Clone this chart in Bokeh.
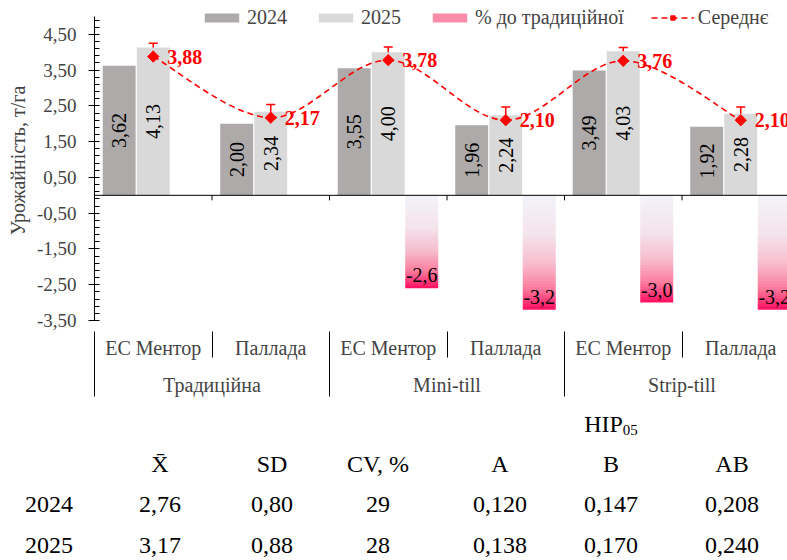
import numpy as np
from bokeh.plotting import figure
from bokeh.models import (Range1d, LinearAxis, FixedTicker, CustomJSTickFormatter,
                          ColumnDataSource, Legend, LegendItem, Span, Whisker, TeeHead, Div)
from bokeh.layouts import column
from bokeh.core.properties import value
from bokeh.embed import file_html
from bokeh.resources import INLINE

# ---------------- data ----------------
tillage = ["Традиційна", "Mini-till", "Strip-till"]
varieties = ["ЕС Ментор", "Паллада"]
yield_2024 = [3.62, 2.00, 3.55, 1.96, 3.49, 1.92]
yield_2025 = [4.13, 2.34, 4.00, 2.24, 4.03, 2.28]
pct_to_traditional = [None, None, -2.6, -3.2, -3.0, -3.2]
mean_yield = [3.88, 2.17, 3.78, 2.10, 3.76, 2.10]
mean_error = [0.37, 0.37, 0.37, 0.37, 0.37, 0.37]
y_major_ticks = [-3.5, -2.5, -1.5, -0.5, 0.5, 1.5, 2.5, 3.5, 4.5]
y_axis_min, y_axis_max = -3.5, 5.0
legend_labels = ["2024", "2025", "% до традиційної", "Середнє"]
y_title = "Урожайність, т/га"

table_group_header = ("НІР", "05")
table_columns = ["X\u0304", "SD", "CV, %", "A", "B", "AB"]
table_years = ["2024", "2025"]
table_2024 = ["2,76", "0,80", "29", "0,120", "0,147", "0,208"]
table_2025 = ["3,17", "0,88", "28", "0,138", "0,170", "0,240"]

# ---------------- styles ----------------
FONT = "Liberation Serif"
C2024 = "#AEAAAA"
C2025 = "#D9D9D9"
RED = "#FF0000"
CAT_PX = 117.5
FIG_W, FIG_H = 787, 400
PAGE_H = 560
FRAME_LEFT = 94
BOTTOM_PANEL = 80
AXIS_PX = 304.0          # pixel height of the y-axis span (-3.5 .. 5.0)


def fmt(v, d):
    return f"{v:.{d}f}".replace(".", ",")


n = len(yield_2024)
xc = np.arange(n) + 0.5
off24, off25, offp, bw = -0.29, 0.0, 0.285, 0.28

px_per_unit = AXIS_PX / (y_axis_max - y_axis_min)
y_top = y_axis_min + (FIG_H - BOTTOM_PANEL) / px_per_unit

p = figure(width=FIG_W, height=FIG_H,
           x_range=Range1d(0, (FIG_W - FRAME_LEFT) / CAT_PX), y_range=Range1d(y_axis_min, y_top),
           x_axis_type=None, y_axis_type=None, toolbar_location=None, output_backend="svg",
           min_border_left=FRAME_LEFT, min_border_right=0, min_border_top=0,
           min_border_bottom=BOTTOM_PANEL)
p.outline_line_color = None
p.background_fill_color = "white"

# ---- y axis ----
minor = [float(v) for v in np.round(np.arange(-3.5, 5.0, 0.2), 2)]
yax = LinearAxis(ticker=FixedTicker(ticks=y_major_ticks, minor_ticks=minor),
                 formatter=CustomJSTickFormatter(code="return tick.toFixed(2).replace('.', ',');"),
                 bounds=(y_axis_min, y_axis_max),
                 axis_label=y_title,
                 axis_label_text_font=FONT, axis_label_text_font_size="20px",
                 axis_label_text_font_style="normal", axis_label_standoff=5,
                 major_label_text_font=FONT, major_label_text_font_size="19px",
                 major_label_standoff=12,
                 major_tick_in=4, major_tick_out=6, minor_tick_in=5, minor_tick_out=0,
                 axis_line_color="black", major_tick_line_color="black",
                 minor_tick_line_color="black")
p.add_layout(yax, "left")

# ---- x axes (two levels) ----
sub_labels = varieties * len(tillage)
axA = LinearAxis(ticker=FixedTicker(ticks=[float(v) for v in xc], minor_ticks=list(range(n + 1))),
                 formatter=CustomJSTickFormatter(args=dict(labels=sub_labels),
                                                 code="return labels[Math.floor(tick)] || '';"),
                 axis_line_color=None, major_tick_line_color=None, major_tick_in=0, major_tick_out=0,
                 minor_tick_line_color="black", minor_tick_in=-37, minor_tick_out=11,
                 major_label_standoff=5, major_label_text_font=FONT,
                 major_label_text_font_size="20px")
grp_centers = [2 * i + 1 for i in range(len(tillage))]
axB = LinearAxis(ticker=FixedTicker(ticks=grp_centers, minor_ticks=[2 * i for i in range(len(tillage) + 1)]),
                 formatter=CustomJSTickFormatter(args=dict(labels=tillage),
                                                 code="return labels[Math.floor(tick / 2)] || '';"),
                 axis_line_color=None, major_tick_line_color=None, major_tick_in=0, major_tick_out=0,
                 minor_tick_line_color="black", minor_tick_in=-35, minor_tick_out=-27,
                 major_label_standoff=12, major_label_text_font=FONT,
                 major_label_text_font_size="20px")
p.add_layout(axA, "below")
p.add_layout(axB, "below")

# ---- bars ----
bsrc = ColumnDataSource(dict(
    x24=xc + off24, x25=xc + off25, y24=yield_2024, y25=yield_2025,
    m24=[v / 2 for v in yield_2024], m25=[v / 2 for v in yield_2025],
    l24=[fmt(v, 2) for v in yield_2024], l25=[fmt(v, 2) for v in yield_2025]))
r24 = p.vbar(x="x24", top="y24", bottom=0, width=bw, source=bsrc, fill_color=C2024, line_color=None)
r25 = p.vbar(x="x25", top="y25", bottom=0, width=bw, source=bsrc, fill_color=C2025, line_color=None)
for xcol, mcol, lcol in (("x24", "m24", "l24"), ("x25", "m25", "l25")):
    p.text(x=xcol, y=mcol, text=lcol, source=bsrc, angle=np.pi / 2, text_align="center",
           text_baseline="middle", text_font=value(FONT), text_font_size="20px", text_color="black")

# ---- gradient bars (% to traditional) ----
stops = [(0.0, (243, 243, 249)), (0.35, (244, 227, 235)), (0.6, (247, 188, 206)),
         (0.82, (251, 122, 156)), (1.0, (255, 12, 96))]


def grad(t):
    for (t0, c0), (t1, c1) in zip(stops[:-1], stops[1:]):
        if t <= t1:
            f = (t - t0) / (t1 - t0)
            c = [round(a + (b - a) * f) for a, b in zip(c0, c1)]
            return "#%02x%02x%02x" % tuple(c)
    return "#%02x%02x%02x" % stops[-1][1]


NS = 40
gl, gr, gt, gb, gc = [], [], [], [], []
px, py, pl = [], [], []
for x, v in zip(xc, pct_to_traditional):
    if v is None:
        continue
    for j in range(NS):
        gl.append(x + offp - bw / 2)
        gr.append(x + offp + bw / 2)
        gt.append(v * j / NS)
        gb.append(v * min(j + 1.4, NS) / NS)
        gc.append(grad((j + 0.5) / NS))
    px.append(x + offp)
    py.append(v)
    pl.append(fmt(v, 1))
gsrc = ColumnDataSource(dict(left=gl, right=gr, top=gt, bottom=gb, color=gc))
rp = p.quad(left="left", right="right", top="top", bottom="bottom", source=gsrc,
            fill_color="color", line_color=None)
p.text(x=px, y=py, text=pl, text_align="center", text_baseline="bottom", y_offset=-6,
       text_font=value(FONT), text_font_size="20px", text_color="black")

# ---- zero line with category tick marks ----
p.add_layout(Span(location=0, dimension="width", line_color="black", line_width=1))
bounds = list(range(1, n + 1))
p.segment(x0=bounds, y0=[0] * len(bounds), x1=bounds, y1=[-0.14] * len(bounds),
          line_color="black", line_width=1)

# ---- mean line (smoothed) ----
P = np.array(list(zip(xc, mean_yield)))
bz = dict(x0=[], y0=[], x1=[], y1=[], cx0=[], cy0=[], cx1=[], cy1=[])
for i in range(n - 1):
    pa = P[i - 1] if i > 0 else P[i]
    pd_ = P[i + 2] if i + 2 < n else P[i + 1]
    c0 = P[i] + (P[i + 1] - pa) / 6
    c1 = P[i + 1] - (pd_ - P[i]) / 6
    for k, val in (("x0", P[i][0]), ("y0", P[i][1]), ("x1", P[i + 1][0]), ("y1", P[i + 1][1]),
                   ("cx0", c0[0]), ("cy0", c0[1]), ("cx1", c1[0]), ("cy1", c1[1])):
        bz[k].append(float(val))
rb = p.bezier(source=ColumnDataSource(bz), x0="x0", y0="y0", x1="x1", y1="y1",
              cx0="cx0", cy0="cy0", cx1="cx1", cy1="cy1",
              line_color=RED, line_width=1.6, line_dash="6 4")

msrc = ColumnDataSource(dict(x=xc, y=mean_yield,
                             upper=[m + e for m, e in zip(mean_yield, mean_error)],
                             lower=[m - e for m, e in zip(mean_yield, mean_error)],
                             lab=[fmt(v, 2) for v in mean_yield]))
p.add_layout(Whisker(source=msrc, base="x", upper="upper", lower="lower", dimension="height",
                     line_color=RED, line_width=1.5,
                     upper_head=TeeHead(size=9, line_color=RED, line_width=1.5),
                     lower_head=TeeHead(size=9, line_color=RED, line_width=1.5)))
rm = p.scatter(x="x", y="y", source=msrc, marker="square", angle=np.pi / 4, size=8,
               fill_color=RED, line_color=RED)
p.text(x="x", y="y", text="lab", source=msrc, x_offset=14, text_align="left",
       text_baseline="middle", text_color=RED, text_font_style="bold",
       text_font=value(FONT), text_font_size="20px")

# ---- legend ----
legend = Legend(items=[LegendItem(label=legend_labels[0], renderers=[r24]),
                       LegendItem(label=legend_labels[1], renderers=[r25]),
                       LegendItem(label=legend_labels[2], renderers=[rp], index=30),
                       LegendItem(label=legend_labels[3], renderers=[rb, rm])],
                location=(106, 291), orientation="horizontal",
                glyph_width=43, glyph_height=11, label_standoff=4, spacing=27,
                padding=0, margin=0, background_fill_alpha=0, border_line_color=None,
                label_text_font=FONT, label_text_font_size="20px")
p.add_layout(legend)

# ---- statistics table ----
DIV_TOP = FIG_H
DIV_H = PAGE_H - FIG_H
col_cx = [160, 272, 378, 500, 611, 732]
row_cy = [424, 464, 504, 545]
cell = ("<div style=\"position:absolute;left:{l}px;top:{t}px;width:120px;height:40px;"
        "line-height:40px;text-align:{a};font-family:'Liberation Serif';font-size:24px;"
        "color:black;white-space:nowrap;\">{s}</div>")
html = [f"<div style=\"position:relative;width:{FIG_W}px;height:{DIV_H}px;overflow:hidden;\">"]
hdr = (f"{table_group_header[0]}<sub style=\"font-size:15px;vertical-align:-3px;line-height:0\">"
       f"{table_group_header[1]}</sub>")
html.append(cell.format(l=col_cx[4] - 60, t=row_cy[0] - DIV_TOP - 20, a="center", s=hdr))
for cx, s in zip(col_cx, table_columns):
    html.append(cell.format(l=cx - 60, t=row_cy[1] - DIV_TOP - 20, a="center", s=s))
for r, (yr, vals) in enumerate(zip(table_years, [table_2024, table_2025])):
    cy = row_cy[2 + r] - DIV_TOP
    html.append(cell.format(l=25, t=cy - 20, a="left", s=yr))
    for cx, s in zip(col_cx, vals):
        html.append(cell.format(l=cx - 60, t=cy - 20, a="center", s=s))
html.append("</div>")
div = Div(text="".join(html), width=FIG_W, height=DIV_H, margin=0)

layout = column(p, div, spacing=0)
open("out.html", "w").write(file_html(layout, INLINE))
